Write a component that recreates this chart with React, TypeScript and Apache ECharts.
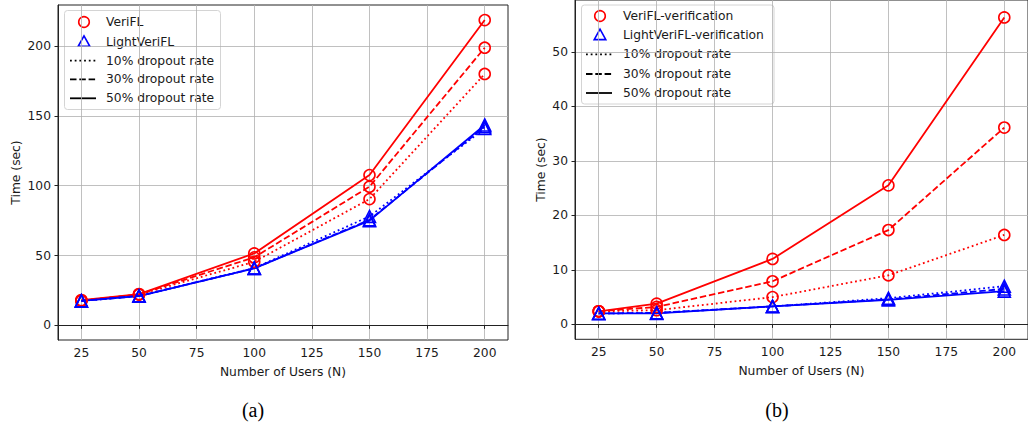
import React, { useEffect, useRef } from "react";
import * as echarts from "echarts";

// ---- data ----
const users = [25, 50, 100, 150, 200];
const xTicks = [25, 50, 75, 100, 125, 150, 175, 200];
const yTicksA = [0, 50, 100, 150, 200];
const yTicksB = [0, 10, 20, 30, 40, 50];

// (a) total time
const veriflA10 = [17.5, 22, 45.5, 90.4, 180];
const veriflA30 = [17.6, 22.2, 48.7, 99.3, 198.8];
const veriflA50 = [18.1, 22.4, 51.5, 107.6, 218.6];
const lightA10 = [17.5, 21, 41, 78, 141];
const lightA30 = [17.5, 21, 40.8, 75.5, 142.3];
const lightA50 = [17.5, 21, 40.8, 75, 143.5];

// (b) verification time
const veriflB10 = [2.4, 2.6, 5.0, 9.0, 16.4];
const veriflB30 = [2.4, 3.2, 7.9, 17.3, 36.1];
const veriflB50 = [2.4, 3.8, 12.0, 25.5, 56.3];
const lightB10 = [2.0, 2.1, 3.3, 4.8, 7.0];
const lightB30 = [2.0, 2.1, 3.3, 4.6, 6.5];
const lightB50 = [2.0, 2.0, 3.3, 4.5, 6.1];

const legendA = ["VeriFL", "LightVeriFL", "10% dropout rate", "30% dropout rate", "50% dropout rate"];
const legendB = ["VeriFL-verification", "LightVeriFL-verification", "10% dropout rate", "30% dropout rate", "50% dropout rate"];

const RED = "#ff0000";
const BLUE = "#0000ff";
const TXT = "#1a1a1a";
const SPINE = "#222222";
const LW = 1.8;
const DOT: number[] = [1.8, 2.9];
const DASH: number[] = [6.5, 2.8];
const FONT = "DejaVu Sans";
const FS = 12.3;

function mkSeries(name: string, data: number[], color: string, symbol: string, dash: any, idx: number) {
  return {
    type: "line",
    name,
    xAxisIndex: idx,
    yAxisIndex: idx,
    data: users.map((u, i) => [u, data[i]]),
    symbol,
    symbolSize: symbol === "circle" ? 11 : 12,
    showAllSymbol: true,
    lineStyle: { color, width: LW, type: dash, cap: "butt" },
    itemStyle: { color: "rgba(0,0,0,0)", borderColor: color, borderWidth: 1.6 },
    emphasis: { disabled: true },
    silent: true,
  };
}

function xAxisDef(idx: number, min: number, max: number) {
  return {
    type: "value",
    gridIndex: idx,
    min,
    max,
    name: "Number of Users (N)",
    nameLocation: "middle",
    nameGap: 26,
    nameTextStyle: { fontSize: FS, color: TXT, fontFamily: FONT },
    axisLine: { show: true, lineStyle: { color: SPINE, width: 1 } },
    axisTick: { show: true, inside: false, length: 3.5, customValues: xTicks, lineStyle: { color: SPINE, width: 1 } },
    axisLabel: { customValues: xTicks, margin: 7, fontSize: FS, color: TXT, fontFamily: FONT },
    splitLine: { show: true, lineStyle: { color: "#b0b0b0", width: 0.8 } },
  };
}

function yAxisDef(idx: number, min: number, max: number, ticks: number[], gap: number) {
  return {
    type: "value",
    gridIndex: idx,
    min,
    max,
    name: "Time (sec)",
    nameLocation: "middle",
    nameGap: gap,
    nameRotate: 90,
    nameTextStyle: { fontSize: FS, color: TXT, fontFamily: FONT },
    axisLine: { show: true, lineStyle: { color: SPINE, width: 1 } },
    axisTick: { show: true, inside: false, length: 3.5, customValues: ticks, lineStyle: { color: SPINE, width: 1 } },
    axisLabel: { customValues: ticks, margin: 7, fontSize: FS, color: TXT, fontFamily: FONT },
    splitLine: { show: true, lineStyle: { color: "#b0b0b0", width: 0.8 } },
  };
}

function legendGraphic(labels: string[], bx: number, by: number, bw: number, bh: number, rows: number[], mx: number, tx: number, lx1: number, lx2: number) {
  const children: any[] = [
    {
      type: "rect",
      shape: { x: bx, y: by, width: bw, height: bh, r: 3 },
      style: { fill: "rgba(255,255,255,0.85)", stroke: "#d4d4d4", lineWidth: 1 },
    },
    {
      type: "circle",
      shape: { cx: mx, cy: rows[0], r: 5.3 },
      style: { fill: "none", stroke: RED, lineWidth: 1.6 },
    },
    {
      type: "polygon",
      shape: { points: [[mx, rows[1] - 5.8], [mx + 5.8, rows[1] + 4.6], [mx - 5.8, rows[1] + 4.6]] },
      style: { fill: "none", stroke: BLUE, lineWidth: 1.6 },
    },
  ];
  const dashes: any[] = [DOT, DASH, null];
  for (let i = 2; i < 5; i++) {
    children.push({
      type: "line",
      shape: { x1: lx1, y1: rows[i], x2: lx2, y2: rows[i] },
      style: { stroke: "#000", lineWidth: LW, lineDash: dashes[i - 2] || undefined, lineCap: "butt" },
    });
  }
  labels.forEach((t, i) => {
    children.push({
      type: "text",
      x: tx,
      y: rows[i],
      style: { text: t, fontSize: FS, fontFamily: FONT, fill: TXT, verticalAlign: "middle", align: "left" },
    });
  });
  return { type: "group", children, z: 100 };
}

export default function App() {
  const ref = useRef<HTMLDivElement>(null);
  useEffect(() => {
    if (!ref.current) return;
    const chart = echarts.init(ref.current, undefined, { renderer: "svg" });
    const option: any = {
      animation: false,
      backgroundColor: "#ffffff",
      grid: [
        { left: 58, top: 5, width: 450, height: 335, show: true, borderColor: SPINE, borderWidth: 1, backgroundColor: "transparent" },
        { left: 575, top: -1, width: 458, height: 340.3, show: true, borderColor: SPINE, borderWidth: 1, backgroundColor: "transparent" },
      ],
      xAxis: [xAxisDef(0, 14.85, 210.1), xAxisDef(1, 14.76, 210.23)],
      yAxis: [yAxisDef(0, -10.5, 229.4, yTicksA, 36), yAxisDef(1, -2.74, 59.5, yTicksB, 28)],
      series: [
        mkSeries("VeriFL 10%", veriflA10, RED, "circle", DOT, 0),
        mkSeries("VeriFL 30%", veriflA30, RED, "circle", DASH, 0),
        mkSeries("VeriFL 50%", veriflA50, RED, "circle", "solid", 0),
        mkSeries("LightVeriFL 10%", lightA10, BLUE, "triangle", DOT, 0),
        mkSeries("LightVeriFL 30%", lightA30, BLUE, "triangle", DASH, 0),
        mkSeries("LightVeriFL 50%", lightA50, BLUE, "triangle", "solid", 0),
        mkSeries("VeriFL-verification 10%", veriflB10, RED, "circle", DOT, 1),
        mkSeries("VeriFL-verification 30%", veriflB30, RED, "circle", DASH, 1),
        mkSeries("VeriFL-verification 50%", veriflB50, RED, "circle", "solid", 1),
        mkSeries("LightVeriFL-verification 10%", lightB10, BLUE, "triangle", DOT, 1),
        mkSeries("LightVeriFL-verification 30%", lightB30, BLUE, "triangle", DASH, 1),
        mkSeries("LightVeriFL-verification 50%", lightB50, BLUE, "triangle", "solid", 1),
      ],
      graphic: [
        legendGraphic(legendA, 64.5, 10.5, 156, 99, [22, 41.7, 60.7, 79.3, 98.3], 84, 106, 70, 96),
        legendGraphic(legendB, 581.5, 5, 192.5, 99, [16, 35, 54.3, 74, 93], 600, 623, 586, 612),
        {
          type: "text",
          x: 253,
          y: 410,
          style: { text: "(a)", fontSize: 20, fontFamily: "Liberation Serif", fill: "#000", align: "center", verticalAlign: "middle" },
        },
        {
          type: "text",
          x: 777,
          y: 410,
          style: { text: "(b)", fontSize: 20, fontFamily: "Liberation Serif", fill: "#000", align: "center", verticalAlign: "middle" },
        },
      ],
    };
    chart.setOption(option);
    return () => chart.dispose();
  }, []);
  return <div ref={ref} style={{ position: "fixed", left: 0, top: 0, width: 1028, height: 427, background: "#fff" }} />;
}
